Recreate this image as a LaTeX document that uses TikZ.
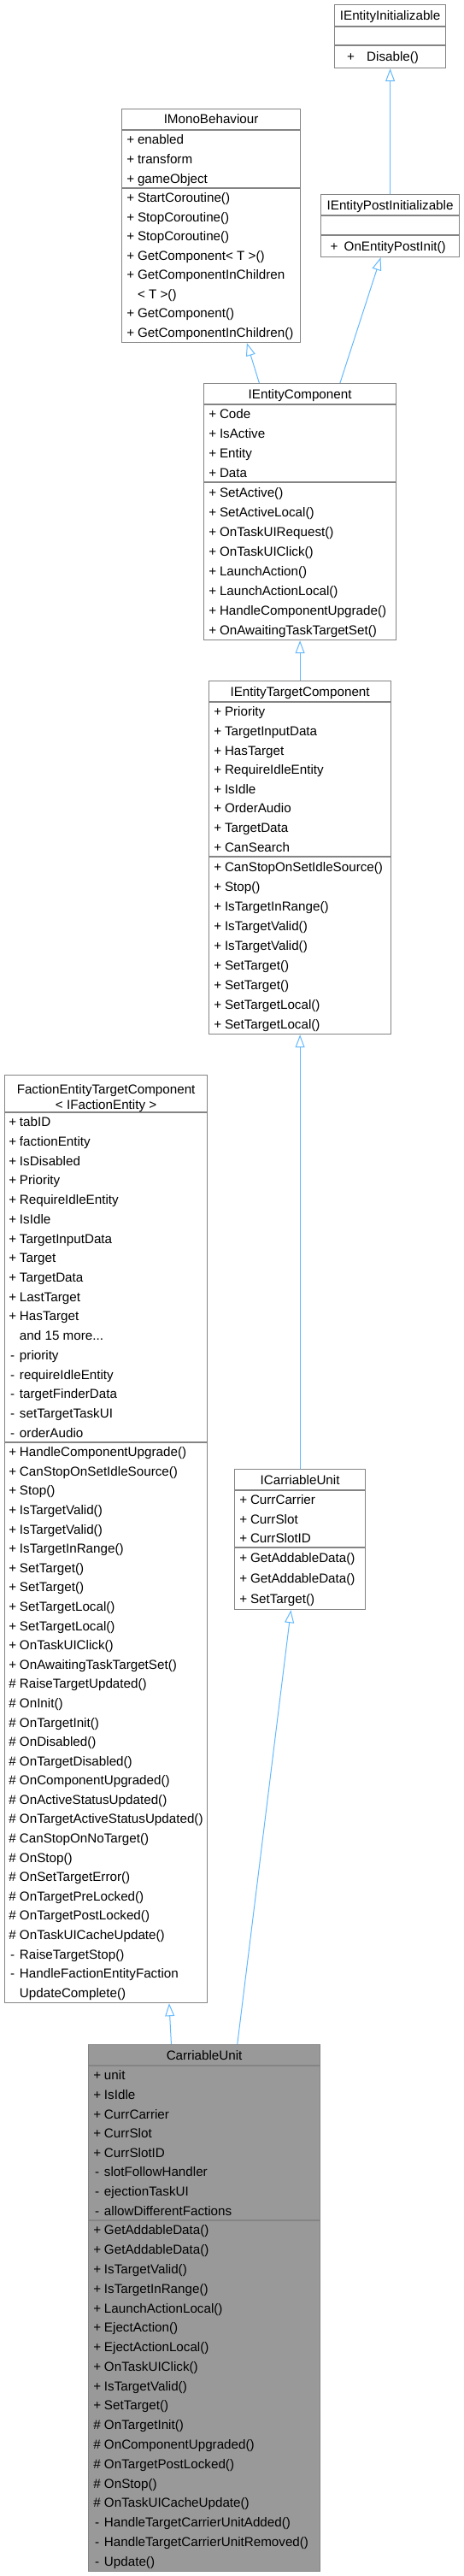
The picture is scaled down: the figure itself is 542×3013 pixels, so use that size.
\documentclass[tikz,border=0pt]{standalone}
\usepackage{fontspec}
\setmainfont{Liberation Sans}
\usepackage{tikz}
\usetikzlibrary{calc}
\usetikzlibrary{arrows.meta}
\usetikzlibrary{positioning}
\definecolor{edgeblue}{HTML}{63B8FF}
\definecolor{boxgray}{HTML}{848484}
\definecolor{selfgray}{HTML}{999999}
\newcommand{\umlfont}{\fontsize{15.2}{18}\selectfont}
\newcommand{\mk}[1]{\makebox[9pt][c]{#1}\hspace{3.8pt}}
\newcommand{\andmore}{and 15 more...}
\tikzset{>=latex}
\tikzset{
  cls/.style = {rectangle, draw=boxgray, line width=1.2pt, fill=white, inner sep=0, anchor=north west},
  self/.style = {cls, fill=selfgray},
  title/.style = {inner sep=0, text height=14pt, text depth=3pt, font=\umlfont},
  row/.style = {anchor=west, inner sep=0, text height=14pt, text depth=3pt, font=\umlfont},
  inh/.style = {-{Triangle[open, length=15pt, width=11pt]}, draw=edgeblue, line width=1pt},
}
% rows of one compartment: name, x, top, pitch, marker/text list
\newcommand{\members}[5]{%
  \foreach \m/\t [count=\i] in {#5}
    \node [row] (#1-\i) at (#2, {#3+(\i-0.5)*#4}) {\mk{\m}\t};}
\newcommand{\compsep}[2]{%
  \draw [boxgray, line width=1.2pt] ($(#1.north west)+(0,#2)$) -- ($(#1.north east)+(0,#2)$);}

\begin{document}
\begin{tikzpicture}[x=1pt, y=-1pt]
\useasboundingbox (0,0) rectangle (542,3013);

% top interfaces
\node [cls, minimum width=130pt, minimum height=74pt] (init) at (391,5) {};
\compsep{init}{26} \compsep{init}{48}
\node [title] (init-t) at ($(init.north)+(0,13)$) {IEntityInitializable};
\node [row] (init-m) at (406,66) {\makebox[23pt][l]{+}Disable()};

\node [cls, minimum width=162pt, minimum height=73pt] (post) at (375,227) {};
\compsep{post}{25} \compsep{post}{48}
\node [title] (post-t) at ($(post.north)+(0,12.5)$) {IEntityPostInitializable};
\node [row] (post-m) at (386.5,288) {\makebox[16pt][l]{+}OnEntityPostInit()};

\node [cls, minimum width=209pt, minimum height=273pt] (mono) at (142,127) {};
\compsep{mono}{25} \compsep{mono}{93}
\node [title] (mono-t) at ($(mono.north)+(0,12.5)$) {IMonoBehaviour};
\members{mono-a}{148}{152}{22.67}{+/enabled, +/transform, +/gameObject}
\members{mono-m}{148}{220}{22.5}{+/StartCoroutine(), +/StopCoroutine(), +/StopCoroutine(),
  +/GetComponent< T >(), +/GetComponentInChildren, {}/< T >(), +/GetComponent(),
  +/GetComponentInChildren()}

% component chain
\node [cls, minimum width=225pt, minimum height=300pt] (iec) at (238,448) {};
\compsep{iec}{25} \compsep{iec}{116}
\node [title] (iec-t) at ($(iec.north)+(0,12.5)$) {IEntityComponent};
\members{iec-a}{244}{473}{22.75}{+/Code, +/IsActive, +/Entity, +/Data}
\members{iec-m}{244}{564}{23}{+/SetActive(), +/SetActiveLocal(), +/OnTaskUIRequest(),
  +/OnTaskUIClick(), +/LaunchAction(), +/LaunchActionLocal(), +/HandleComponentUpgrade(),
  +/OnAwaitingTaskTargetSet()}

\node [cls, minimum width=213pt, minimum height=413pt] (ietc) at (244,796) {};
\compsep{ietc}{25} \compsep{ietc}{206}
\node [title] (ietc-t) at ($(ietc.north)+(0,12.5)$) {IEntityTargetComponent};
\members{ietc-a}{250}{821}{22.625}{+/Priority, +/TargetInputData, +/HasTarget,
  +/RequireIdleEntity, +/IsIdle, +/OrderAudio, +/TargetData, +/CanSearch}
\members{ietc-m}{250}{1002}{23}{+/CanStopOnSetIdleSource(), +/Stop(), +/IsTargetInRange(),
  +/IsTargetValid(), +/IsTargetValid(), +/SetTarget(), +/SetTarget(), +/SetTargetLocal(),
  +/SetTargetLocal()}

\node [cls, minimum width=237pt, minimum height=1085pt] (fetc) at (5,1257) {};
\compsep{fetc}{44} \compsep{fetc}{430}
\node [title] (fetc-t1) at ($(fetc.north)+(0,17)$) {FactionEntityTargetComponent};
\node [title] (fetc-t2) at ($(fetc.north)+(0,35)$) {< IFactionEntity >};
\members{fetc-a}{10}{1301}{22.706}{+/tabID, +/factionEntity, +/IsDisabled, +/Priority,
  +/RequireIdleEntity, +/IsIdle, +/TargetInputData, +/Target, +/TargetData, +/LastTarget,
  +/HasTarget, {}/\andmore, -/priority, -/requireIdleEntity, -/targetFinderData,
  -/setTargetTaskUI, -/orderAudio}
\members{fetc-m}{10}{1687}{22.586}{+/HandleComponentUpgrade(), +/CanStopOnSetIdleSource(),
  +/Stop(), +/IsTargetValid(), +/IsTargetValid(), +/IsTargetInRange(), +/SetTarget(),
  +/SetTarget(), +/SetTargetLocal(), +/SetTargetLocal(), +/OnTaskUIClick(),
  +/OnAwaitingTaskTargetSet(), \#/RaiseTargetUpdated(), \#/OnInit(), \#/OnTargetInit(),
  \#/OnDisabled(), \#/OnTargetDisabled(), \#/OnComponentUpgraded(),
  \#/OnActiveStatusUpdated(), \#/OnTargetActiveStatusUpdated(), \#/CanStopOnNoTarget(),
  \#/OnStop(), \#/OnSetTargetError(), \#/OnTargetPreLocked(), \#/OnTargetPostLocked(),
  \#/OnTaskUICacheUpdate(), -/RaiseTargetStop(), -/HandleFactionEntityFaction,
  {}/UpdateComplete()}

\node [cls, minimum width=153pt, minimum height=164pt] (icu) at (274,1718) {};
\compsep{icu}{25} \compsep{icu}{92}
\node [title] (icu-t) at ($(icu.north)+(0,12.5)$) {ICarriableUnit};
\members{icu-a}{280}{1743}{22.33}{+/CurrCarrier, +/CurrSlot, +/CurrSlotID}
\members{icu-m}{280}{1810}{24}{+/GetAddableData(), +/GetAddableData(), +/SetTarget()}

% the class itself
\node [self, minimum width=271pt, minimum height=616pt] (cu) at (103,2391) {};
\compsep{cu}{25} \compsep{cu}{206}
\node [title] (cu-t) at ($(cu.north)+(0,12.5)$) {CarriableUnit};
\members{cu-a}{109}{2416}{22.625}{+/unit, +/IsIdle, +/CurrCarrier, +/CurrSlot, +/CurrSlotID,
  -/slotFollowHandler, -/ejectionTaskUI, -/allowDifferentFactions}
\members{cu-m}{109}{2597}{22.78}{+/GetAddableData(), +/GetAddableData(), +/IsTargetValid(),
  +/IsTargetInRange(), +/LaunchActionLocal(), +/EjectAction(), +/EjectActionLocal(),
  +/OnTaskUIClick(), +/IsTargetValid(), +/SetTarget(), \#/OnTargetInit(),
  \#/OnComponentUpgraded(), \#/OnTargetPostLocked(), \#/OnStop(), \#/OnTaskUICacheUpdate(),
  -/HandleTargetCarrierUnitAdded(), -/HandleTargetCarrierUnitRemoved(), -/Update()}

% inheritance
\draw [inh] (post.north) -- (init.south);
\draw [inh] ($(iec.north west)!0.289!(iec.north east)$) -- ($(mono.south west)!0.699!(mono.south east)$);
\draw [inh] ($(iec.north west)!0.707!(iec.north east)$) -- ($(post.south west)!0.432!(post.south east)$);
\draw [inh] (ietc.north) -- (iec.south);
\draw [inh] (icu.north) -- (ietc.south);
\draw [inh] ($(cu.north west)!0.358!(cu.north east)$) -- ($(fetc.south west)!0.81!(fetc.south east)$);
\draw [inh] ($(cu.north west)!0.642!(cu.north east)$) -- ($(icu.south west)!0.431!(icu.south east)$);
\end{tikzpicture}
\end{document}
